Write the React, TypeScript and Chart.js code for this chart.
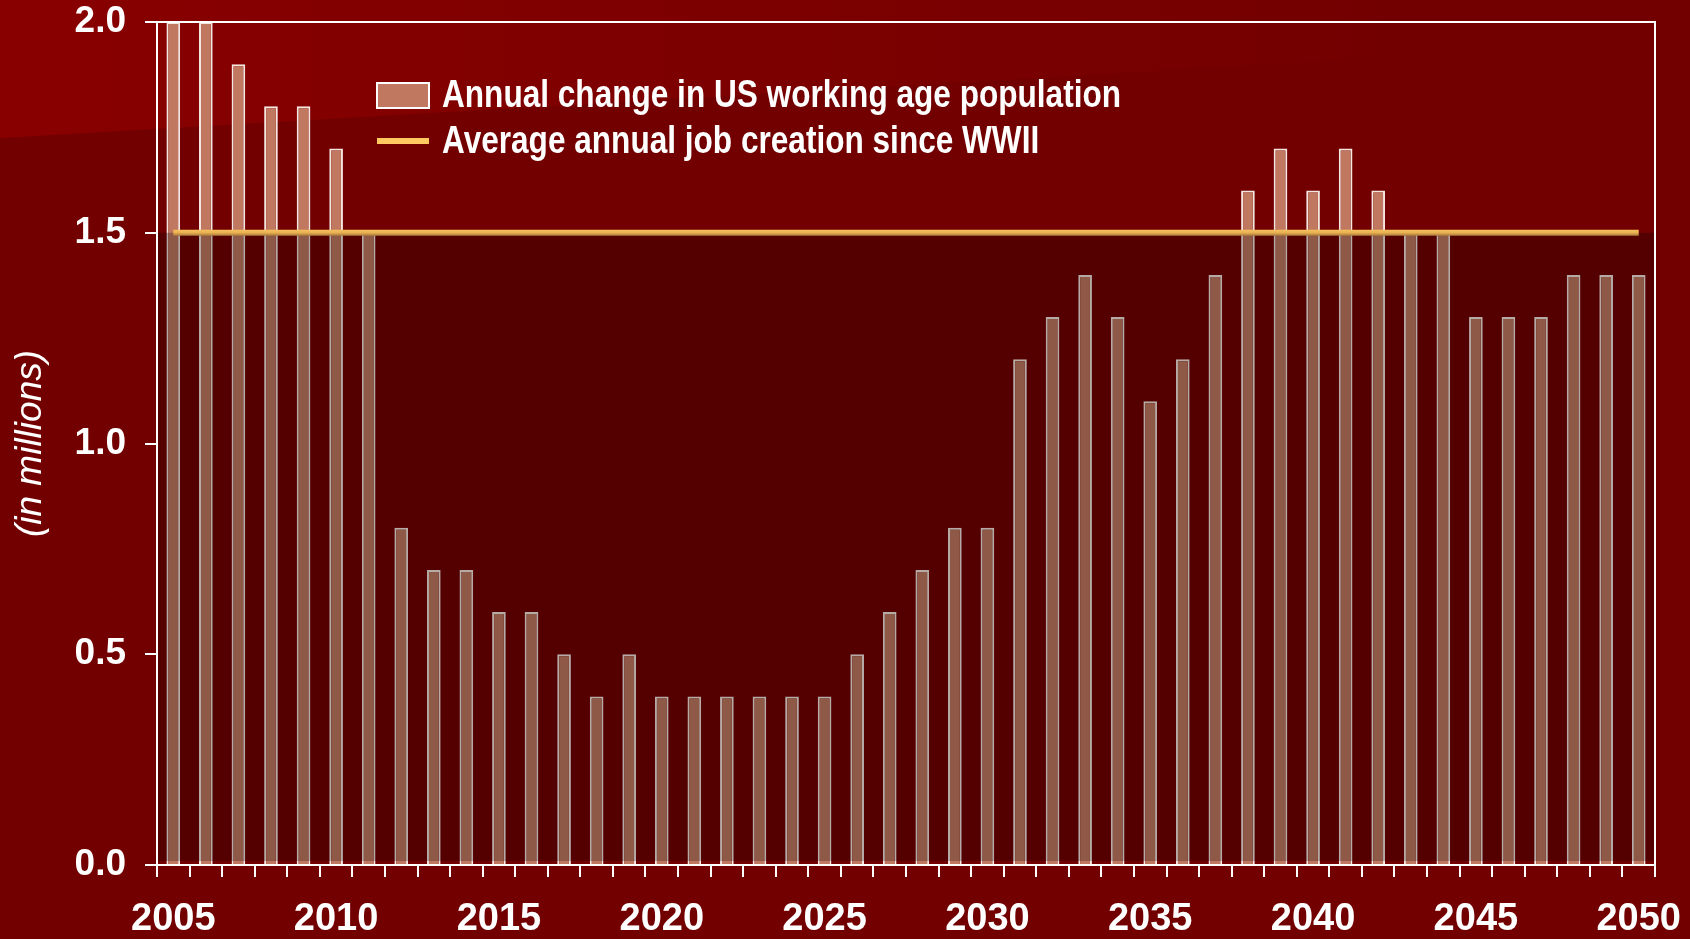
import React, { useEffect, useRef } from "react";
import { Chart, registerables } from "chart.js";

Chart.register(...registerables);

const years: string[] = [
  "2005", "2006", "2007", "2008", "2009", "2010", "2011", "2012", "2013", "2014",
  "2015", "2016", "2017", "2018", "2019", "2020", "2021", "2022", "2023", "2024",
  "2025", "2026", "2027", "2028", "2029", "2030", "2031", "2032", "2033", "2034",
  "2035", "2036", "2037", "2038", "2039", "2040", "2041", "2042", "2043", "2044",
  "2045", "2046", "2047", "2048", "2049", "2050",
];

const workingAgeChange: number[] = [
  2.0, 2.0, 1.9, 1.8, 1.8, 1.7, 1.5, 0.8, 0.7, 0.7,
  0.6, 0.6, 0.5, 0.4, 0.5, 0.4, 0.4, 0.4, 0.4, 0.4,
  0.4, 0.5, 0.6, 0.7, 0.8, 0.8, 1.2, 1.3, 1.4, 1.3,
  1.1, 1.2, 1.4, 1.6, 1.7, 1.6, 1.7, 1.6, 1.5, 1.5,
  1.3, 1.3, 1.3, 1.4, 1.4, 1.4,
];

const avgJobCreation = 1.5;
const jobLine = [
  { x: "2005", y: avgJobCreation },
  { x: "2050", y: avgJobCreation },
];

const yTicks: number[] = [0, 0.5, 1.0, 1.5, 2.0];
const labelYears: string[] = ["2005", "2010", "2015", "2020", "2025", "2030", "2035", "2040", "2045", "2050"];

const barLabel = "Annual change in US working age population";
const lineLabel = "Average annual job creation since WWII";
const yTitle = "(in millions)";

const FONT = "'Liberation Sans', Arial, sans-serif";

const bgPlugin = {
  id: "bgPlugin",
  beforeDraw(chart: any) {
    const { ctx, width, height } = chart;
    ctx.save();
    ctx.fillStyle = "#720000";
    ctx.fillRect(0, 0, width, height);
    const g = ctx.createLinearGradient(0, 0, 1400, 0);
    g.addColorStop(0, "#890000");
    g.addColorStop(0.5, "#7d0000");
    g.addColorStop(1, "#730000");
    ctx.fillStyle = g;
    ctx.beginPath();
    ctx.moveTo(0, 0);
    ctx.lineTo(width, 0);
    ctx.lineTo(width, 40);
    ctx.lineTo(0, 138);
    ctx.closePath();
    ctx.fill();
    ctx.restore();
  },
  afterDatasetDraw(chart: any, args: any) {
    if (args.index !== 0) return;
    const { ctx, chartArea, scales } = chart;
    const yTop = scales.y.getPixelForValue(avgJobCreation);
    const yBot = scales.y.getPixelForValue(0) - 4;
    ctx.save();
    ctx.fillStyle = "rgba(0,0,0,0.26)";
    ctx.fillRect(chartArea.left, yTop, chartArea.right - chartArea.left, yBot - yTop);
    ctx.restore();
  },
  afterDraw(chart: any) {
    const { ctx, chartArea } = chart;
    ctx.save();
    ctx.strokeStyle = "#ffffff";
    ctx.lineWidth = 2;
    ctx.strokeRect(chartArea.left, chartArea.top, chartArea.right - chartArea.left, chartArea.bottom - chartArea.top);

    // legend
    const sx = 377;
    ctx.fillStyle = "#C07860";
    ctx.fillRect(sx, 83, 52, 25);
    ctx.strokeStyle = "#ffffff";
    ctx.lineWidth = 2;
    ctx.strokeRect(sx, 83, 52, 25);
    ctx.fillStyle = "#FFC860";
    ctx.fillRect(sx, 138, 52, 6);

    ctx.font = `bold 38px ${FONT}`;
    ctx.fillStyle = "#ffffff";
    ctx.textBaseline = "middle";
    ctx.textAlign = "left";
    const w1 = ctx.measureText(barLabel).width;
    const scale = 679 / w1;
    ctx.save();
    ctx.translate(442, 97);
    ctx.scale(scale, 1);
    ctx.fillText(barLabel, 0, 0);
    ctx.restore();
    ctx.save();
    ctx.translate(442, 143);
    ctx.scale(scale, 1);
    ctx.fillText(lineLabel, 0, 0);
    ctx.restore();
    ctx.restore();
  },
};

export default function App() {
  const ref = useRef<HTMLCanvasElement | null>(null);

  useEffect(() => {
    document.body.style.margin = "0";
    const canvas = ref.current;
    if (!canvas) return;
    const chart = new Chart(canvas, {
      type: "bar",
      data: {
        labels: years,
        datasets: [
          {
            type: "bar",
            label: barLabel,
            data: workingAgeChange,
            backgroundColor: "#C07860",
            borderColor: "#F4E6E0",
            borderWidth: 2,
            borderSkipped: "start",
            barPercentage: 0.42,
            categoryPercentage: 1,
            order: 2,
          } as any,
          {
            type: "line",
            label: lineLabel,
            data: jobLine as any,
            borderColor: (c: any) => {
              const { ctx, chartArea, scales } = c.chart;
              if (!chartArea || !scales.y) return "#E0A850";
              const y = scales.y.getPixelForValue(avgJobCreation);
              const g = ctx.createLinearGradient(0, y - 3, 0, y + 3);
              g.addColorStop(0, "#F6C25E");
              g.addColorStop(0.5, "#E8B052");
              g.addColorStop(1, "#A87838");
              return g;
            },
            borderWidth: 6,
            pointRadius: 0,
            fill: false,
            order: 1,
          } as any,
        ],
      },
      options: {
        responsive: false,
        animation: false,
        layout: { padding: { left: 0, top: 22, right: 35, bottom: 0 } },
        plugins: {
          legend: { display: false },
          tooltip: { enabled: false },
        },
        scales: {
          x: {
            type: "category",
            offset: true,
            grid: {
              display: true,
              offset: true,
              drawOnChartArea: false,
              drawTicks: true,
              tickLength: 12,
              color: "#ffffff",
              lineWidth: 2,
            },
            border: { display: false },
            ticks: {
              autoSkip: false,
              maxRotation: 0,
              minRotation: 0,
              padding: 20,
              color: "#ffffff",
              font: { family: FONT, size: 38, weight: "bold" },
              callback: (_v: any, i: number) => (labelYears.includes(years[i]) ? years[i] : ""),
            },
            afterFit: (s: any) => {
              s.height = 74;
              s.paddingLeft = 0;
              s.paddingRight = 0;
            },
          },
          y: {
            min: 0,
            max: 2.0,
            afterBuildTicks: (s: any) => {
              s.ticks = yTicks.map((v) => ({ value: v }));
            },
            grid: {
              display: true,
              drawOnChartArea: false,
              drawTicks: true,
              tickLength: 12,
              color: "#ffffff",
              lineWidth: 2,
            },
            border: { display: false },
            ticks: {
              padding: 19,
              color: "#ffffff",
              font: { family: FONT, size: 37, weight: "bold" },
              callback: (v: any) => Number(v).toFixed(1),
            },
            title: {
              display: true,
              text: yTitle,
              color: "#ffffff",
              font: { family: FONT, size: 37, style: "italic", weight: "normal" },
              padding: { top: 9, bottom: 0 },
            },
            afterFit: (s: any) => {
              s.width = 157;
              s.paddingTop = 0;
              s.paddingBottom = 0;
            },
          },
        },
      },
      plugins: [bgPlugin],
    });
    return () => chart.destroy();
  }, []);

  return <canvas ref={ref} width={1690} height={939} style={{ display: "block" }} />;
}
